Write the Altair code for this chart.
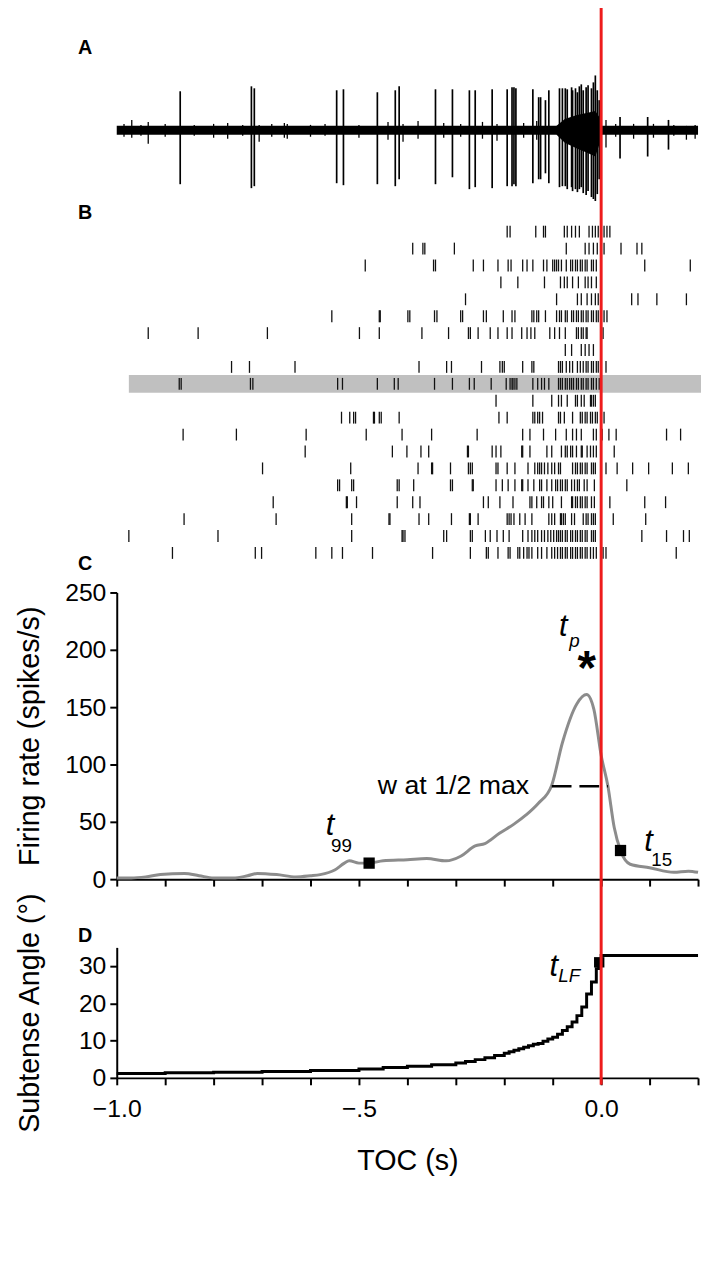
import altair as alt
import pandas as pd

FONT = "Liberation Sans, Arial, sans-serif"
BOLD_FONT = "Liberation Sans, Arial, sans-serif"

# ---------------- Panel A: extracellular trace ----------------
spike_t = [-0.869, -0.722, -0.716, -0.546, -0.532, -0.462, -0.425, -0.417,
           -0.342, -0.307, -0.272, -0.260, -0.225, -0.194, -0.184, -0.180, -0.176,
           -0.141, -0.129, -0.125, -0.115, -0.108, -0.086, -0.080,
           -0.074, -0.070, -0.061, -0.059, -0.053, -0.049, -0.045, -0.041,
           -0.037, -0.031, -0.027, -0.020, -0.016, -0.012, -0.008, -0.004,
           0.039, 0.096, 0.139]
spike_up = [39, 44, 42, 40, 41, 38, 40, 44,
            41, 41, 40, 40, 41, 41, 43, 43, 42,
            41, 33, 33, 30, 40, 42, 42,
            42, 41, 43, 40, 42, 38, 44, 46,
            40, 43, 45, 42, 48, 55, 40, 30,
            13, 13, 10]
spike_down = [-55, -59, -57, -54, -56, -55, -57, -50,
              -55, -48, -60, -58, -59, -57, -57, -55, -57,
              -54, -50, -50, -44, -54, -58, -57,
              -57, -60, -58, -62, -60, -63, -60, -58,
              -64, -66, -62, -68, -70, -72, -65, -50,
              -29, -27, -20]
blip_t = [-0.985, -0.969, -0.950, -0.935, -0.900, -0.840, -0.800, -0.771, -0.740, -0.706,
          -0.680, -0.654, -0.648, -0.600, -0.570, -0.500, -0.440, -0.409, -0.378, -0.325,
          -0.290, -0.245, -0.215, -0.160, -0.133, 0.010, 0.030, 0.067, 0.108, 0.150,
          0.176, 0.194]
blip_up = [6, 10, 5, 8, 6, 5, 6, 7, 5, 5,
           6, 7, 6, 5, 6, 5, 8, 6, 9, 7,
           6, 8, 6, 7, 9, 10, 6, 6, 6, 5,
           4, 5]
blip_down = [-7, -8, -6, -14, -7, -6, -8, -9, -6, -12,
             -7, -8, -9, -7, -6, -8, -10, -12, -9, -8,
             -7, -9, -11, -8, -10, -18, -7, -9, -8, -6,
             -10, -9]
noise_t = [-1.0, 0.2]
noise_hi = [4, 4]
noise_lo = [-5, -5]
burst_t = [-0.092, -0.075, -0.050, -0.030, -0.012, -0.004, 0.002]
burst_hi = [4, 11, 15, 17, 19, 13, 4]
burst_lo = [-5, -13, -19, -23, -27, -15, -5]

# ---------------- Panel B: raster (spike times per trial, s) ----------------
trials = [
    [-0.194, -0.188, -0.135, -0.119, -0.115, -0.076, -0.070, -0.061, -0.053, -0.045, -0.025, -0.018, -0.012, -0.006, 0.000, 0.006, 0.012, 0.018],
    [-0.389, -0.368, -0.364, -0.303, -0.072, -0.033, -0.025, -0.016, -0.008, 0.006, 0.041, 0.074, 0.084],
    [-0.487, -0.346, -0.342, -0.264, -0.243, -0.213, -0.192, -0.186, -0.162, -0.153, -0.141, -0.119, -0.112, -0.100, -0.096, -0.092, -0.088, -0.082, -0.072, -0.063, -0.059, -0.053, -0.049, -0.043, -0.039, -0.033, -0.029, -0.020, -0.016, -0.010, 0.090, 0.184],
    [-0.207, -0.172, -0.117, -0.084, -0.076, -0.070, -0.059, -0.047, -0.033, -0.027, -0.020, -0.010],
    [-0.280, -0.092, -0.049, -0.041, -0.029, -0.020, -0.012, -0.006, 0.063, 0.076, 0.115, 0.176],
    [-0.556, -0.458, -0.456, -0.399, -0.395, -0.344, -0.339, -0.290, -0.286, -0.243, -0.237, -0.202, -0.184, -0.178, -0.143, -0.139, -0.133, -0.129, -0.115, -0.092, -0.086, -0.082, -0.074, -0.070, -0.061, -0.057, -0.051, -0.047, -0.041, -0.037, -0.031, -0.027, -0.020, -0.016, -0.010, -0.006, 0.000, 0.006, 0.012],
    [-0.935, -0.832, -0.689, -0.499, -0.458, -0.370, -0.315, -0.274, -0.270, -0.254, -0.229, -0.213, -0.194, -0.184, -0.164, -0.153, -0.145, -0.137, -0.106, -0.096, -0.086, -0.074, -0.051, -0.047, -0.041, -0.037, -0.031, -0.029, 0.004],
    [-0.074, -0.061, -0.041, -0.033, -0.025, -0.016],
    [-0.763, -0.726, -0.632, -0.376, -0.319, -0.309, -0.247, -0.209, -0.204, -0.200, -0.162, -0.143, -0.139, -0.088, -0.084, -0.080, -0.072, -0.065, -0.059, -0.049, -0.043, -0.037, -0.031, -0.027, -0.020, -0.016, -0.010, -0.006, 0.010],
    [-0.871, -0.867, -0.724, -0.719, -0.544, -0.534, -0.462, -0.427, -0.419, -0.344, -0.307, -0.272, -0.262, -0.227, -0.196, -0.188, -0.184, -0.182, -0.178, -0.174, -0.141, -0.131, -0.123, -0.117, -0.108, -0.088, -0.084, -0.080, -0.074, -0.070, -0.065, -0.061, -0.057, -0.051, -0.047, -0.041, -0.037, -0.031, -0.027, -0.020, -0.016, -0.010, -0.004, 0.000],
    [-0.217, -0.141, -0.102, -0.088, -0.082, -0.070, -0.053, -0.049, -0.041, -0.035, -0.022, -0.020, -0.016, -0.012],
    [-0.536, -0.519, -0.511, -0.507, -0.470, -0.468, -0.458, -0.454, -0.417, -0.211, -0.194, -0.141, -0.137, -0.131, -0.127, -0.121, -0.088, -0.084, -0.076, -0.059, -0.043, -0.039, -0.033, -0.029, -0.022, -0.018, -0.012, -0.008, 0.000, 0.006],
    [-0.863, -0.753, -0.609, -0.485, -0.411, -0.350, -0.256, -0.162, -0.147, -0.119, -0.094, -0.072, -0.059, -0.051, -0.041, -0.016, -0.010, 0.002, 0.016, 0.031, 0.135, 0.164],
    [-0.611, -0.431, -0.401, -0.372, -0.356, -0.276, -0.274, -0.225, -0.217, -0.207, -0.164, -0.162, -0.147, -0.112, -0.102, -0.082, -0.074, -0.070, -0.063, -0.059, -0.051, -0.041, -0.039, -0.029, -0.022, -0.016, -0.010, 0.027],
    [-0.699, -0.517, -0.378, -0.350, -0.348, -0.311, -0.274, -0.270, -0.266, -0.217, -0.213, -0.194, -0.178, -0.151, -0.137, -0.131, -0.127, -0.123, -0.117, -0.110, -0.102, -0.096, -0.088, -0.084, -0.059, -0.053, -0.049, -0.043, -0.039, -0.033, -0.029, -0.020, -0.016, -0.012, 0.010, 0.033, 0.065, 0.098, 0.147, 0.180],
    [-0.544, -0.540, -0.515, -0.511, -0.421, -0.417, -0.387, -0.311, -0.307, -0.266, -0.264, -0.217, -0.204, -0.192, -0.178, -0.164, -0.162, -0.151, -0.139, -0.127, -0.123, -0.112, -0.102, -0.094, -0.090, -0.084, -0.080, -0.074, -0.070, -0.061, -0.055, -0.049, -0.045, -0.035, -0.029, -0.014, 0.053],
    [-0.677, -0.526, -0.524, -0.505, -0.421, -0.389, -0.374, -0.243, -0.233, -0.209, -0.182, -0.147, -0.143, -0.133, -0.123, -0.119, -0.108, -0.100, -0.082, -0.061, -0.059, -0.053, -0.049, -0.043, -0.039, -0.033, -0.029, -0.020, -0.014, 0.018, 0.090, 0.133],
    [-0.861, -0.671, -0.515, -0.438, -0.436, -0.376, -0.356, -0.309, -0.272, -0.270, -0.254, -0.194, -0.190, -0.186, -0.180, -0.168, -0.157, -0.143, -0.108, -0.102, -0.096, -0.084, -0.082, -0.078, -0.074, -0.061, -0.055, -0.037, -0.031, -0.027, -0.020, -0.016, -0.012, 0.025, 0.092],
    [-0.975, -0.791, -0.515, -0.411, -0.409, -0.405, -0.325, -0.319, -0.270, -0.266, -0.239, -0.229, -0.215, -0.202, -0.190, -0.162, -0.151, -0.143, -0.137, -0.131, -0.123, -0.117, -0.110, -0.104, -0.098, -0.092, -0.088, -0.084, -0.080, -0.074, -0.070, -0.063, -0.059, -0.053, -0.049, -0.043, -0.039, -0.033, -0.029, -0.020, -0.016, -0.012, 0.084, 0.135, 0.170, 0.182],
    [-0.885, -0.714, -0.701, -0.589, -0.556, -0.534, -0.472, -0.348, -0.270, -0.237, -0.233, -0.213, -0.192, -0.188, -0.172, -0.168, -0.160, -0.153, -0.149, -0.143, -0.131, -0.123, -0.112, -0.102, -0.096, -0.090, -0.084, -0.080, -0.074, -0.070, -0.063, -0.059, -0.053, -0.049, -0.043, -0.039, -0.033, -0.029, -0.022, -0.016, -0.010, 0.004, 0.010, 0.155],
]
highlight_trial = 9
highlight_span = [-0.975, 0.21]

# ---------------- Panel C: firing rate ----------------
rate_t = [-1.00, -0.97, -0.94, -0.91, -0.86, -0.83, -0.80, -0.76, -0.73, -0.71, -0.67, -0.63,
          -0.60, -0.58, -0.55, -0.53, -0.52, -0.50, -0.48, -0.45, -0.40, -0.36, -0.32, -0.29,
          -0.26, -0.24, -0.21, -0.18, -0.155, -0.13, -0.102, -0.08, -0.05, -0.03, -0.015,
          0.0, 0.014, 0.027, 0.04, 0.06, 0.10, 0.15, 0.18, 0.20]
rate_v = [1, 1, 2, 4, 5, 3, 1, 1, 3, 5, 4, 2,
          3, 4, 8, 14, 16, 14, 14, 16, 17, 18, 16, 20,
          29, 31, 40, 48, 56, 66, 82, 119, 153, 161, 148,
          108, 81, 45, 25, 13, 10, 6, 7, 6]
halfmax_t = [-0.102, 0.014]
halfmax_v = [81, 81]
marker_t = [-0.479, 0.040]
marker_v = [14, 25]

# ---------------- Panel D: subtense angle ----------------
angle_t = [-1.0, -0.9, -0.8, -0.7, -0.6, -0.5, -0.45, -0.40, -0.35, -0.30, -0.28, -0.26,
           -0.24, -0.22, -0.20, -0.19, -0.18, -0.17, -0.16, -0.15, -0.14, -0.13, -0.12,
           -0.11, -0.10, -0.09, -0.08, -0.07, -0.06, -0.05, -0.04, -0.03, -0.02, -0.01,
           -0.005, 0.0, 0.2]
angle_v = [1.2, 1.35, 1.5, 1.7, 2.0, 2.4, 2.8, 3.1, 3.5, 4.0, 4.4, 4.9,
           5.4, 6.0, 6.6, 7.0, 7.4, 7.8, 8.2, 8.6, 9.0, 9.2, 9.8,
           10.4, 10.9, 11.7, 12.7, 13.7, 15.0, 16.7, 19.0, 22.5, 25.7, 29.3,
           31.0, 32.8, 32.8]
tlf_t = [-0.004]
tlf_v = [31]

# ---------------- scales & axes ----------------
H = 1075
xs = alt.Scale(domain=[-1.0, 0.2], nice=False, zero=False)
yA = alt.Scale(domain=[-80, 60], range=[196, 56], nice=False, zero=False)
yB = alt.Scale(domain=[0, 19], range=[219, 544], nice=False, zero=False)
yC = alt.Scale(domain=[0, 250], range=[874, 584], nice=False, zero=False)
yD = alt.Scale(domain=[0, 35], range=[H, 943], nice=False, zero=False)

xticks = [-1.0, -0.9, -0.8, -0.7, -0.6, -0.5, -0.4, -0.3, -0.2, -0.1, 0.0, 0.1, 0.2]

common_axis = dict(grid=False, domainColor="black", domainWidth=2, tickColor="black",
                   tickWidth=2, tickSize=7, labelColor="black", titleColor="black",
                   labelFont=FONT, titleFont=FONT, labelFontSize=25, titleFontSize=29,
                   titleFontWeight="normal", labelFlush=False)

axC_x = alt.Axis(orient="bottom", offset=-(H - 874), values=xticks, labels=False, title="",
                 **common_axis)
axD_x = alt.Axis(orient="bottom", values=xticks, title="TOC (s)", labelPadding=12,
                 titlePadding=26,
                 labelExpr="abs(datum.value + 1) < 1e-6 ? '\u22121.0' : abs(datum.value + 0.5) < 1e-6 ? '\u2212.5' : abs(datum.value) < 1e-6 ? '0.0' : ''",
                 **common_axis)
axC_y = alt.Axis(orient="left", values=[0, 50, 100, 150, 200, 250],
                 title="Firing rate (spikes/s)", titlePadding=20, labelPadding=4, **common_axis)
axD_y = alt.Axis(orient="left", values=[0, 10, 20, 30],
                 title="Subtense Angle (\u00b0)", titlePadding=34, labelPadding=4, **common_axis)


def xA(field):
    return alt.X(field, type="quantitative", scale=xs, axis=None)


# ---------------- Panel A ----------------
df_noise = pd.DataFrame({"t": noise_t, "hi": noise_hi, "lo": noise_lo})
df_burst = pd.DataFrame({"t": burst_t, "hi": burst_hi, "lo": burst_lo})
df_spk = pd.DataFrame({"t": spike_t, "up": spike_up, "down": spike_down})
df_blip = pd.DataFrame({"t": blip_t, "up": blip_up, "down": blip_down})

noise = alt.Chart(df_noise).mark_area(color="black").encode(
    x=xA("t"), y=alt.Y("hi:Q", scale=yA, axis=None), y2="lo:Q")
burst = alt.Chart(df_burst).mark_area(color="black").encode(
    x=xA("t"), y=alt.Y("hi:Q", scale=yA, axis=None), y2="lo:Q")
spikes = alt.Chart(df_spk).mark_rule(color="black", strokeWidth=1.7).encode(
    x=xA("t"), y=alt.Y("up:Q", scale=yA, axis=None), y2="down:Q")
blips = alt.Chart(df_blip).mark_rule(color="black", strokeWidth=1.3).encode(
    x=xA("t"), y=alt.Y("up:Q", scale=yA, axis=None), y2="down:Q")
panelA = alt.layer(noise, burst, blips, spikes)

# ---------------- Panel B ----------------
rows = []
for i, spk in enumerate(trials):
    for s in spk:
        rows.append({"trial": i, "t": s})
df_raster = pd.DataFrame(rows)
df_hl = pd.DataFrame({"t0": [highlight_span[0]], "t1": [highlight_span[1]],
                      "r0": [highlight_trial - 0.52], "r1": [highlight_trial + 0.52]})
hl = alt.Chart(df_hl).mark_rect(color="#c0c0c0").encode(
    x=xA("t0"), x2="t1:Q", y=alt.Y("r0:Q", scale=yB, axis=None), y2="r1:Q")
ticks = alt.Chart(df_raster).mark_tick(orient="vertical", size=12, thickness=1.3,
                                       color="#111111", opacity=1).encode(
    x=xA("t"), y=alt.Y("trial:Q", scale=yB, axis=None))
panelB = alt.layer(hl, ticks)

# ---------------- Panel C ----------------
df_rate = pd.DataFrame({"t": rate_t, "v": rate_v})
df_half = pd.DataFrame({"t": halfmax_t, "v": halfmax_v})
df_mark = pd.DataFrame({"t": marker_t, "v": marker_v})


def xC(field):
    return alt.X(field, type="quantitative", scale=xs, axis=axC_x)


def yCe(field):
    return alt.Y(field, type="quantitative", scale=yC, axis=axC_y)


curve = alt.Chart(df_rate).mark_line(color="#8c8c8c", strokeWidth=3,
                                     interpolate="monotone").encode(x=xC("t"), y=yCe("v"))
half = alt.Chart(df_half).mark_line(color="black", strokeWidth=2.5,
                                    strokeDash=[20, 8]).encode(x=xC("t"), y=yCe("v"))
marks = alt.Chart(df_mark).mark_square(color="black", size=130, opacity=1).encode(
    x=xC("t"), y=yCe("v"))

ann_c = pd.DataFrame({
    "t": [-0.078, -0.055, -0.560, -0.536, 0.098, 0.125],
    "v": [220, 208, 46, 29, 32, 17],
    "txt": ["t", "p", "t", "99", "t", "15"],
    "kind": ["main", "sub", "main", "num", "main", "num"],
})
t_main = alt.Chart(ann_c[ann_c.kind == "main"]).mark_text(
    font=FONT, fontSize=31, fontStyle="italic", color="black", baseline="middle").encode(
    x=xC("t"), y=yCe("v"), text="txt:N")
t_sub = alt.Chart(ann_c[ann_c.kind == "sub"]).mark_text(
    font=FONT, fontSize=19, fontStyle="italic", color="black", baseline="middle").encode(
    x=xC("t"), y=yCe("v"), text="txt:N")
t_num = alt.Chart(ann_c[ann_c.kind == "num"]).mark_text(
    font=FONT, fontSize=19, color="black", baseline="middle").encode(
    x=xC("t"), y=yCe("v"), text="txt:N")
star = alt.Chart(pd.DataFrame({"t": [-0.030], "v": [182], "txt": ["*"]})).mark_text(
    font=BOLD_FONT, fontSize=48, fontWeight="bold", color="black", baseline="middle").encode(
    x=xC("t"), y=yCe("v"), text="txt:N")
wtxt = alt.Chart(pd.DataFrame({"t": [-0.112], "v": [81], "txt": ["w at 1/2 max"]})).mark_text(
    font=FONT, fontSize=27, color="black", align="right", baseline="middle", dx=-18).encode(
    x=xC("t"), y=yCe("v"), text="txt:N")
panelC = alt.layer(curve, half, marks, t_main, t_sub, t_num, star, wtxt)

# ---------------- Panel D ----------------
df_ang = pd.DataFrame({"t": angle_t, "v": angle_v})
df_tlf = pd.DataFrame({"t": tlf_t, "v": tlf_v})


def xD(field):
    return alt.X(field, type="quantitative", scale=xs, axis=axD_x)


def yDe(field):
    return alt.Y(field, type="quantitative", scale=yD, axis=axD_y)


stairs = alt.Chart(df_ang).mark_line(color="black", strokeWidth=3,
                                     interpolate="step-after").encode(x=xD("t"), y=yDe("v"))
tlf = alt.Chart(df_tlf).mark_square(color="black", size=110, opacity=1).encode(
    x=xD("t"), y=yDe("v"))
ann_d = pd.DataFrame({"t": [-0.098, -0.066], "v": [29.8, 27.2], "txt": ["t", "LF"]})
tlf_t1 = alt.Chart(ann_d.iloc[[0]]).mark_text(
    font=FONT, fontSize=31, fontStyle="italic", color="black", baseline="middle").encode(
    x=xD("t"), y=yDe("v"), text="txt:N")
tlf_t2 = alt.Chart(ann_d.iloc[[1]]).mark_text(
    font=FONT, fontSize=19, fontStyle="italic", color="black", baseline="middle").encode(
    x=xD("t"), y=yDe("v"), text="txt:N")
panelD = alt.layer(stairs, tlf, tlf_t1, tlf_t2)

# ---------------- red TOC line ----------------
red = alt.Chart(pd.DataFrame({"t": [0.0]})).mark_rule(color="#ee1c1c", strokeWidth=3).encode(
    x=xA("t"), y=alt.value(-8), y2=alt.value(H + 7))

# ---------------- panel letters ----------------
letters = []
for lab, py in [("A", 33), ("B", 200), ("C", 555), ("D", 932)]:
    letters.append(
        alt.Chart(pd.DataFrame({"l": [lab]})).mark_text(
            font=BOLD_FONT, fontSize=20, fontWeight="bold", color="black",
            align="center", baseline="middle").encode(
            x=alt.value(-32), y=alt.value(py), text="l:N"))

chart = alt.layer(panelA, panelB, panelC, panelD, red, *letters).resolve_scale(
    x="independent", y="independent"
).properties(
    width=588, height=H,
    autosize=alt.AutoSizeParams(type="none"),
    padding={"left": 110, "top": 0, "right": 3, "bottom": 178},
).configure_view(stroke=None)

chart.save("out.html", embed_options={"renderer": "svg", "actions": False})
